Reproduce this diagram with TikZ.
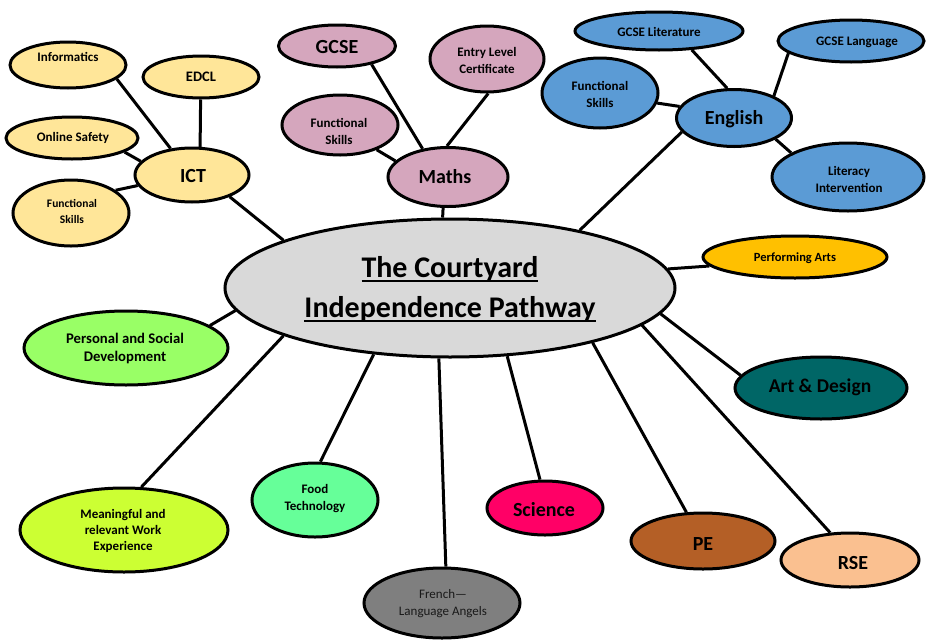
\documentclass[tikz,border=0pt]{standalone}
\usepackage{fontspec}
\setmainfont{Carlito}
\usetikzlibrary{shapes.geometric}
\pgfdeclarelayer{bg}
\pgfsetlayers{bg,main}
\definecolor{cICT}{HTML}{FFE699}
\definecolor{cMath}{HTML}{D5A6BD}
\definecolor{cEng}{HTML}{5B9BD5}
\definecolor{cMain}{HTML}{D9D9D9}
\definecolor{cPerf}{HTML}{FFC000}
\definecolor{cArt}{HTML}{006666}
\definecolor{cPSD}{HTML}{99FF66}
\definecolor{cWork}{HTML}{CCFF33}
\definecolor{cFood}{HTML}{66FF99}
\definecolor{cFr}{HTML}{7F7F7F}
\definecolor{cSci}{HTML}{FF0066}
\definecolor{cPE}{HTML}{B45F26}
\definecolor{cRSE}{HTML}{FAC090}
\newcommand\fs[2]{\fontsize{#1}{#2}\selectfont}
\newcommand\myul[1]{\setbox0=\hbox{#1}\rlap{\rule[-4.5pt]{\wd0}{2pt}}\box0}
\tikzset{
  bub/.style={ellipse, draw=black, line width=3pt, inner sep=0pt},
  lab/.style={align=center, inner sep=0pt, font=\bfseries\fs{13}{17}},
  big/.style={align=center, inner sep=0pt, font=\bfseries\fs{20}{24}},
  conn/.style={line width=3pt, draw=black}
}
\begin{document}
\begin{tikzpicture}[x=1pt,y=-1pt]
\useasboundingbox (0,0) rectangle (926,640);
% central
\node[bub, fill=cMain, minimum width=450pt, minimum height=138pt] (main) at (450,288) {};
\node[align=center, inner sep=0pt, font=\bfseries\fs{30}{40}] (maint) at (450,289) {\myul{The Courtyard}\\\myul{Independence Pathway}};
% ICT group
\node[bub, fill=cICT, minimum width=114pt, minimum height=54pt] (ict) at (192,175) {};
\node[big] (ictt) at (193,176) {ICT};
\node[bub, fill=cICT, minimum width=116pt, minimum height=46pt] (inf) at (68,65) {};
\node[lab] (inft) at (68,57) {Informatics};
\node[bub, fill=cICT, minimum width=116pt, minimum height=42pt] (edcl) at (201,77) {};
\node[lab, font=\bfseries\fs{14.5}{17}] (edclt) at (201,77) {EDCL};
\node[bub, fill=cICT, minimum width=132pt, minimum height=42pt] (onl) at (72,138) {};
\node[lab] (onlt) at (73,138) {Online Safety};
\node[bub, fill=cICT, minimum width=116pt, minimum height=66pt] (fni) at (71,213) {};
\node[lab, font=\bfseries\fs{11.5}{16}] (fnit) at (72,211) {Functional\\Skills};
% Maths group
\node[bub, fill=cMath, minimum width=120pt, minimum height=59pt] (maths) at (448,177) {};
\node[big] (mathst) at (445,177) {Maths};
\node[bub, fill=cMath, minimum width=117pt, minimum height=42pt] (gcse) at (337,46) {};
\node[big] (gcset) at (337,47) {GCSE};
\node[bub, fill=cMath, minimum width=114pt, minimum height=66pt] (entry) at (487,59) {};
\node[lab] (entryt) at (487,60) {Entry Level\\Certificate};
\node[bub, fill=cMath, minimum width=116pt, minimum height=60pt] (fnm) at (340,125) {};
\node[lab] (fnmt) at (339,131) {Functional\\Skills};
% English group
\node[bub, fill=cEng, minimum width=115pt, minimum height=57pt] (eng) at (734,118) {};
\node[big] (engt) at (734,119) {English};
\node[bub, fill=cEng, minimum width=168pt, minimum height=38pt] (glit) at (659,31) {};
\node[lab] (glitt) at (659,32) {GCSE Literature};
\node[bub, fill=cEng, minimum width=146pt, minimum height=42pt] (glang) at (851,41) {};
\node[lab] (glangt) at (857,42) {GCSE Language};
\node[bub, fill=cEng, minimum width=116pt, minimum height=70pt] (fne) at (600,93) {};
\node[lab] (fnet) at (600,94) {Functional\\Skills};
\node[bub, fill=cEng, minimum width=152pt, minimum height=68pt] (lit) at (848,177) {};
\node[lab] (litt) at (849,179) {Literacy\\Intervention};
% right and bottom
\node[bub, fill=cPerf, minimum width=184pt, minimum height=42pt] (perf) at (795,257) {};
\node[lab, font=\bfseries\fs{12.5}{16}] (perft) at (795,258) {Performing Arts};
\node[bub, fill=cArt, minimum width=172pt, minimum height=62pt] (art) at (821,388) {};
\node[big, font=\bfseries\fs{19.5}{24}] (artt) at (820,387) {Art \& Design};
\node[bub, fill=cRSE, minimum width=138pt, minimum height=54pt] (rse) at (850,560) {};
\node[big] (rset) at (853,563) {RSE};
\node[bub, fill=cPE, minimum width=144pt, minimum height=56pt] (pe) at (703,541) {};
\node[big] (pet) at (703,544) {PE};
\node[bub, fill=cSci, minimum width=116pt, minimum height=54pt] (sci) at (545,508) {};
\node[big] (scit) at (544,510) {Science};
\node[bub, fill=cFr, minimum width=156pt, minimum height=70pt] (fr) at (442,603) {};
\node[align=center, inner sep=0pt, font=\fs{13}{17}, text=black!90] (frt) at (443,604) {French---\\Language Angels};
\node[bub, fill=cFood, minimum width=126pt, minimum height=74pt] (food) at (315,500) {};
\node[lab] (foodt) at (315,499) {Food\\Technology};
\node[bub, fill=cWork, minimum width=208pt, minimum height=84pt] (work) at (124,530) {};
\node[lab, font=\bfseries\fs{13}{16}] (workt) at (123,531) {Meaningful and\\relevant Work\\Experience};
\node[bub, fill=cPSD, minimum width=204pt, minimum height=74pt] (psd) at (126,348) {};
\node[lab, font=\bfseries\fs{14.7}{18}] (psdt) at (125,348) {Personal and Social\\Development};
% connectors
\begin{pgfonlayer}{bg}
\draw[conn] (inf.-16.5) -- (ict.129);
\draw[conn] (edcl.-91) -- (ict.74);
\draw[conn] (onl.-15.6) -- (ict.165);
\draw[conn] (fni.27) -- (ict.191);
\draw[conn] (ict.-30) -- (main.164);
\draw[conn] (gcse.-28) -- (maths.132);
\draw[conn] (entry.-88) -- (maths.92);
\draw[conn] (fnm.-34) -- (maths.163);
\draw[conn] (maths.-99) -- (main.96);
\draw[conn] (glit.-30) -- (eng.103);
\draw[conn] (glang.191) -- (eng.29);
\draw[conn] (fne.-10) -- (eng.168);
\draw[conn] (eng.-27) -- (lit.157);
\draw[conn] (eng.195) -- (main.24);
\draw[conn] (main.5) -- (perf.186);
\draw[conn] (main.-7) -- (art.171);
\draw[conn] (main.-11.5) -- (rse.126);
\draw[conn] (main.-21) -- (pe.120);
\draw[conn] (main.-50) -- (sci.100);
\draw[conn] (main.-99) -- (fr.84);
\draw[conn] (main.221) -- (food.82);
\draw[conn] (main.196) -- (work.68);
\draw[conn] (main.186) -- (psd.15);
\end{pgfonlayer}
\end{tikzpicture}
\end{document}
